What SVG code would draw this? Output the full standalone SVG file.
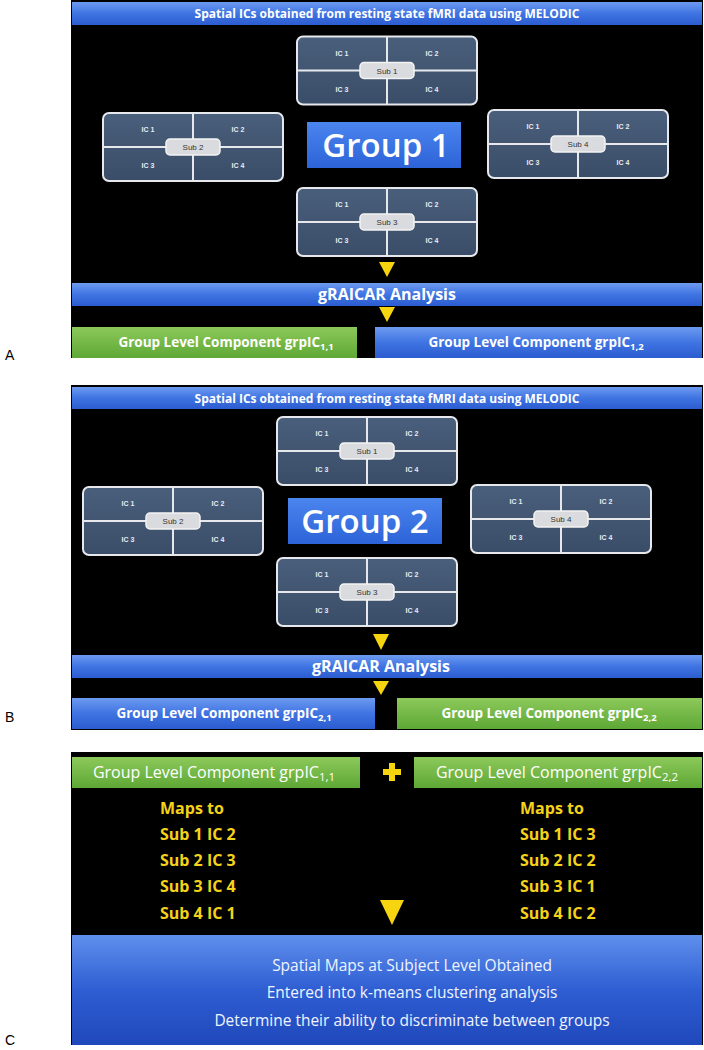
<svg xmlns="http://www.w3.org/2000/svg" width="704" height="1050" viewBox="0 0 704 1050">
<defs>
<linearGradient id="gBan" x1="0" y1="0" x2="0" y2="1"><stop offset="0" stop-color="#6d9af0"/><stop offset="0.5" stop-color="#3f74e2"/><stop offset="1" stop-color="#2c5cd0"/></linearGradient>
<linearGradient id="gGreen" x1="0" y1="0" x2="0" y2="1"><stop offset="0" stop-color="#8cc95a"/><stop offset="1" stop-color="#5ea836"/></linearGradient>
<linearGradient id="gSub" x1="0" y1="0" x2="0" y2="1"><stop offset="0" stop-color="#4a5f7c"/><stop offset="1" stop-color="#3a4d68"/></linearGradient>
<linearGradient id="gGrp" x1="0" y1="0" x2="0" y2="1"><stop offset="0" stop-color="#4b85ee"/><stop offset="1" stop-color="#2c63d8"/></linearGradient>
<linearGradient id="gBig" x1="0" y1="0" x2="0" y2="1"><stop offset="0" stop-color="#5f8fec"/><stop offset="0.5" stop-color="#2e5ed2"/><stop offset="1" stop-color="#1f48bc"/></linearGradient>
<g id="subbox">
<rect x="-90" y="-34" width="180" height="68" rx="6" fill="url(#gSub)" stroke="#e6e8ec" stroke-width="2"/>
<line x1="0" y1="-34" x2="0" y2="34" stroke="#e6e8ec" stroke-width="2"/>
<line x1="-90" y1="0" x2="90" y2="0" stroke="#e6e8ec" stroke-width="2"/>
<text x="-45" y="-15" class="ic">IC 1</text>
<text x="45" y="-15" class="ic">IC 2</text>
<text x="-45" y="21" class="ic">IC 3</text>
<text x="45" y="21" class="ic">IC 4</text>
<rect x="-27" y="-8" width="54" height="16" rx="4" fill="#d9dbde" stroke="#f4f4f4" stroke-width="1.5"/>
</g>
</defs>
<style>
.ic{font-family:"Liberation Sans",Arial,sans-serif;font-size:7px;font-weight:bold;fill:#e8ecf2;text-anchor:middle}
.sub{font-family:"Liberation Sans",Arial,sans-serif;font-size:8px;fill:#333;text-anchor:middle}
.ban{font-family:"Open Sans","Liberation Sans",sans-serif;font-size:12px;font-weight:bold;fill:#fff;text-anchor:middle}
.gra{font-family:"Open Sans","Liberation Sans",sans-serif;font-size:16px;font-weight:bold;fill:#fff;text-anchor:middle}
.grl{font-family:"Open Sans","Liberation Sans",sans-serif;font-size:13.5px;font-weight:bold;fill:#fff;text-anchor:middle}
.grp{font-family:"Open Sans","Liberation Sans",sans-serif;font-size:33px;font-weight:600;fill:#fff;text-anchor:middle}
.glc{font-family:"Open Sans","Liberation Sans",sans-serif;font-size:16px;fill:#fff;text-anchor:middle}
.yel{font-family:"Open Sans","Liberation Sans",sans-serif;font-size:16px;font-weight:bold;fill:#f5d21a}
.big{font-family:"Open Sans","Liberation Sans",sans-serif;font-size:15.5px;fill:#f0f4ff;text-anchor:middle}
.lab{font-family:"Liberation Sans",Arial,sans-serif;font-size:14px;fill:#000}
.tri{fill:#f7d410}
</style>
<rect width="704" height="1050" fill="#fff"/>

<!-- Panel A -->
<g id="panelA">
<rect x="71" y="0" width="632" height="358" fill="#000"/>
<g id="A_banner"><rect x="72" y="2" width="630" height="23" fill="url(#gBan)"/><text x="387" y="18" class="ban">Spatial ICs obtained from resting state fMRI data using MELODIC</text></g>
<g id="A_sub1" transform="translate(387,70.5)"><use href="#subbox"/><text x="0" y="3" class="sub">Sub 1</text></g>
<g id="A_sub2" transform="translate(193,147)"><use href="#subbox"/><text x="0" y="3" class="sub">Sub 2</text></g>
<g id="A_sub4" transform="translate(578,144)"><use href="#subbox"/><text x="0" y="3" class="sub">Sub 4</text></g>
<g id="A_sub3" transform="translate(387,222)"><use href="#subbox"/><text x="0" y="3" class="sub">Sub 3</text></g>
<g id="A_group"><rect x="307" y="122" width="154" height="46" fill="url(#gGrp)"/><text x="386" y="157" class="grp">Group 1</text></g>
<g id="A_graicar"><rect x="72" y="283" width="630" height="23" fill="url(#gBan)"/><text x="387" y="300" class="gra">gRAICAR Analysis</text></g>
<g id="A_c11"><rect x="72" y="327" width="285" height="31" fill="url(#gGreen)"/><text x="226" y="347" class="grl">Group Level Component grpIC<tspan font-size="9.5" dy="3">1,1</tspan></text></g>
<g id="A_c12"><rect x="375" y="327" width="327" height="31" fill="url(#gBan)"/><text x="536" y="347" class="grl">Group Level Component grpIC<tspan font-size="9.5" dy="3">1,2</tspan></text></g>
<text x="5" y="360" class="lab">A</text>
</g>

<!-- Panel B -->
<g id="panelB">
<rect x="71" y="385" width="632" height="345" fill="#000"/>
<g id="B_banner"><rect x="72" y="387" width="630" height="22" fill="url(#gBan)"/><text x="387" y="402.5" class="ban">Spatial ICs obtained from resting state fMRI data using MELODIC</text></g>
<g id="B_sub1" transform="translate(367,451)"><use href="#subbox"/><text x="0" y="3" class="sub">Sub 1</text></g>
<g id="B_sub2" transform="translate(173,521)"><use href="#subbox"/><text x="0" y="3" class="sub">Sub 2</text></g>
<g id="B_sub4" transform="translate(561,519)"><use href="#subbox"/><text x="0" y="3" class="sub">Sub 4</text></g>
<g id="B_sub3" transform="translate(367,592)"><use href="#subbox"/><text x="0" y="3" class="sub">Sub 3</text></g>
<g id="B_group"><rect x="288" y="498" width="154" height="46" fill="url(#gGrp)"/><text x="365" y="533" class="grp">Group 2</text></g>
<g id="B_graicar"><rect x="72" y="655" width="630" height="23" fill="url(#gBan)"/><text x="381" y="672" class="gra">gRAICAR Analysis</text></g>
<g id="B_c21"><rect x="72" y="698" width="303" height="31" fill="url(#gBan)"/><text x="224" y="718" class="grl">Group Level Component grpIC<tspan font-size="9.5" dy="3">2,1</tspan></text></g>
<g id="B_c22"><rect x="397" y="698" width="305" height="31" fill="url(#gGreen)"/><text x="549" y="718" class="grl">Group Level Component grpIC<tspan font-size="9.5" dy="3">2,2</tspan></text></g>
<text x="5" y="722" class="lab">B</text>
</g>

<!-- Panel C -->
<g id="panelC">
<rect x="71" y="752" width="632" height="293" fill="#000"/>
<g id="C_c11"><rect x="72" y="757" width="288" height="31" fill="url(#gGreen)"/><text x="214" y="778" class="glc">Group Level Component grpIC<tspan font-size="11.5" dy="3">1,1</tspan></text></g>
<g id="C_c22"><rect x="414" y="757" width="288" height="31" fill="url(#gGreen)"/><text x="557" y="778" class="glc">Group Level Component grpIC<tspan font-size="11.5" dy="3">2,2</tspan></text></g>
<g id="C_plus"><rect x="389" y="763" width="6" height="18" fill="#f7d410"/><rect x="383" y="769" width="18" height="6" fill="#f7d410"/></g>
<g id="C_left">
<text x="160" y="814" class="yel">Maps to</text>
<text x="160" y="840" class="yel">Sub 1 IC 2</text>
<text x="160" y="866" class="yel">Sub 2 IC 3</text>
<text x="160" y="892" class="yel">Sub 3 IC 4</text>
<text x="160" y="919" class="yel">Sub 4 IC 1</text>
</g>
<g id="C_right">
<text x="520" y="814" class="yel">Maps to</text>
<text x="520" y="840" class="yel">Sub 1 IC 3</text>
<text x="520" y="866" class="yel">Sub 2 IC 2</text>
<text x="520" y="892" class="yel">Sub 3 IC 1</text>
<text x="520" y="919" class="yel">Sub 4 IC 2</text>
</g>
<g id="C_result"><rect x="72" y="935" width="630" height="110" fill="url(#gBig)"/>
<text x="412" y="971" class="big">Spatial Maps at Subject Level Obtained</text>
<text x="412" y="998" class="big">Entered into k-means clustering analysis</text>
<text x="412" y="1026" class="big">Determine their ability to discriminate between groups</text>
</g>
<text x="5" y="1045" class="lab">C</text>
</g>

<!-- Connectors -->
<g id="connectors">
<polygon class="tri" points="379,262 395,262 387,277"/>
<polygon class="tri" points="379,307 395,307 387,322"/>
<polygon class="tri" points="373,634 389,634 381,650"/>
<polygon class="tri" points="373,681 389,681 381,695"/>
<polygon class="tri" points="380,900 404,900 392,925"/>
</g>
</svg>
